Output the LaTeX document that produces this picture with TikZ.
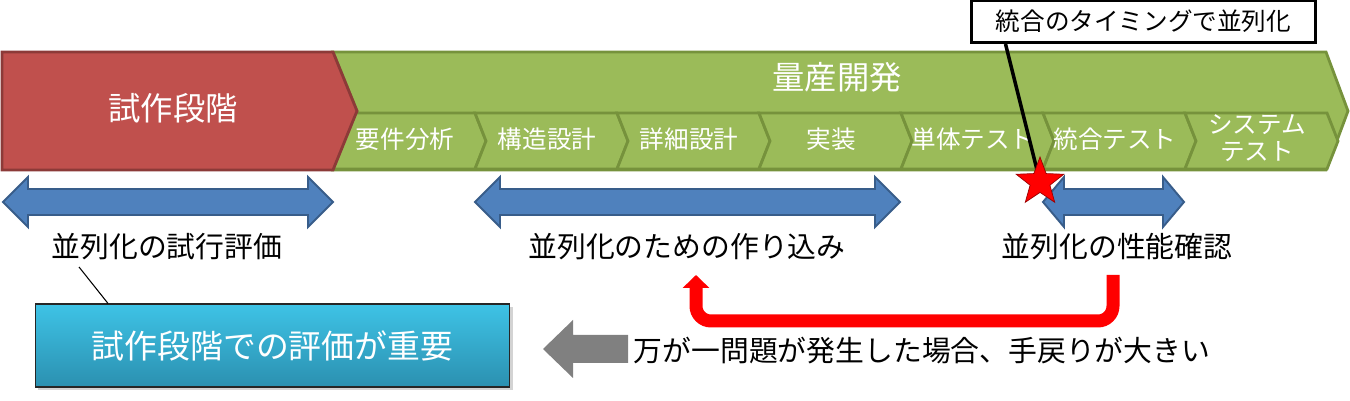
\documentclass[tikz,border=0pt]{standalone}
\usepackage{fontspec}
\setmainfont{Noto Sans CJK JP}
\usetikzlibrary{arrows.meta,shapes.geometric,shadows}

\definecolor{protofill}{HTML}{C0504D}
\definecolor{protoline}{HTML}{8C3A38}
\definecolor{massfill}{HTML}{9BBB59}
\definecolor{massline}{HTML}{76923C}
\definecolor{spanfill}{HTML}{4F81BD}
\definecolor{spanline}{HTML}{385D8A}
\definecolor{keytop}{HTML}{3EC3E6}
\definecolor{keybot}{HTML}{2B90B0}

\begin{document}
\begin{tikzpicture}[x=0.02cm,y=-0.02cm,>=Latex,
  phasebox/.style={fill=massfill,draw=massline,line width=1.6pt,line join=miter},
  stagebox/.pic={\path[phasebox] (0,0) -- (142,0) -- (153,28) -- (142,56) -- (0,56) -- (11,28) -- cycle;},
  steplabel/.style={text=white,font=\fontsize{14}{15.5}\selectfont,align=center,inner sep=1pt},
  biglabel/.style={text=white,font=\fontsize{18.4}{22}\selectfont,inner sep=1pt},
  span/.style={fill=spanfill,draw=spanline,line width=1.1pt,line join=miter},
  remark/.style={font=\fontsize{16.4}{19}\selectfont,inner sep=1pt}]
\useasboundingbox (0,0) rectangle (1350,401);

% phases
\path[phasebox] (333,52) -- (1326,52) -- (1348,111) -- (1326,170) -- (333,170) -- (357,111) -- cycle;
\pic at (333,113) {stagebox};
\pic at (475,113) {stagebox};
\pic at (617,113) {stagebox};
\pic at (759,113) {stagebox};
\pic at (901,113) {stagebox};
\pic at (1043,113) {stagebox};
\pic at (1185,113) {stagebox};
\path[fill=protofill,draw=protoline,line width=1.6pt,line join=miter] (2,52) -- (333,52) -- (357,111) -- (333,170) -- (2,170) -- cycle;

\node[biglabel] (proto) at (173,108) {試作段階};
\node[biglabel] (mass) at (837,77) {量産開発};
\node[steplabel] (s1) at (405,139) {要件分析};
\node[steplabel] (s2) at (547,139) {構造設計};
\node[steplabel] (s3) at (689,139) {詳細設計};
\node[steplabel] (s4) at (831,139) {実装};
\node[steplabel] (s5) at (973,139) {単体テスト};
\node[steplabel] (s6) at (1115,139) {統合テスト};
\node[steplabel] (s7) at (1257,138) {システム\\テスト};

% spans
\path[span] (3,202) -- (28,177) -- (28,189) -- (308,189) -- (308,177) -- (333,202) -- (308,227) -- (308,215) -- (28,215) -- (28,227) -- cycle;
\path[span] (475,202) -- (500,177) -- (500,189) -- (875,189) -- (875,177) -- (900,202) -- (875,227) -- (875,215) -- (500,215) -- (500,227) -- cycle;
\path[span] (1043,202) -- (1064,177) -- (1064,189) -- (1163,189) -- (1163,177) -- (1184,202) -- (1163,227) -- (1163,215) -- (1064,215) -- (1064,227) -- cycle;

% callout
\node[draw=black,line width=1.7pt,fill=white,minimum width=6.9cm,minimum height=0.84cm,font=\fontsize{14}{16}\selectfont,inner sep=0pt] (merge) at (1143.5,21.5) {統合のタイミングで並列化};
\coordinate (mergept) at (1040,182);
\draw[line width=2pt] ([xshift=0.72cm]merge.south west) -- (mergept);
\node[star,star points=5,star point ratio=2.4,minimum size=1cm,inner sep=0pt,fill=red,draw=red!60!black,line width=0.4pt] (mark) at (mergept) {};

% remarks
\node[remark] (trial) at (167,247) {並列化の試行評価};
\node[remark] (build) at (687,247) {並列化のための作り込み};
\node[remark] (confirm) at (1117,247) {並列化の性能確認};

\node[draw=black!85,line width=0.6pt,top color=keytop,bottom color=keybot,minimum width=9.5cm,minimum height=1.66cm,text=white,font=\fontsize{18.7}{22}\selectfont,drop shadow={shadow xshift=0.06cm,shadow yshift=-0.06cm,opacity=0.35}] (key) at (272.5,345.5) {試作段階での評価が重要};
\draw[line width=0.6pt] ([xshift=-1.76cm,yshift=-0.4cm]trial.center) -- ([xshift=-3.29cm]key.north);

\draw[red,line width=0.26cm,rounded corners=0.3cm,-{Triangle[width=0.52cm,length=0.26cm]}] ([xshift=-0.08cm,yshift=-0.56cm]confirm.center) -- ++(0,46) -| ([xshift=0.18cm,yshift=-0.56cm]build.center);

\path[fill=black!50] (543,349) -- (573,320) -- (573,335) -- (628,335) -- (628,363) -- (573,363) -- (573,378) -- cycle;
\node[remark] (risk) at (922,351) {万が一問題が発生した場合、手戻りが大きい};
\end{tikzpicture}
\end{document}
